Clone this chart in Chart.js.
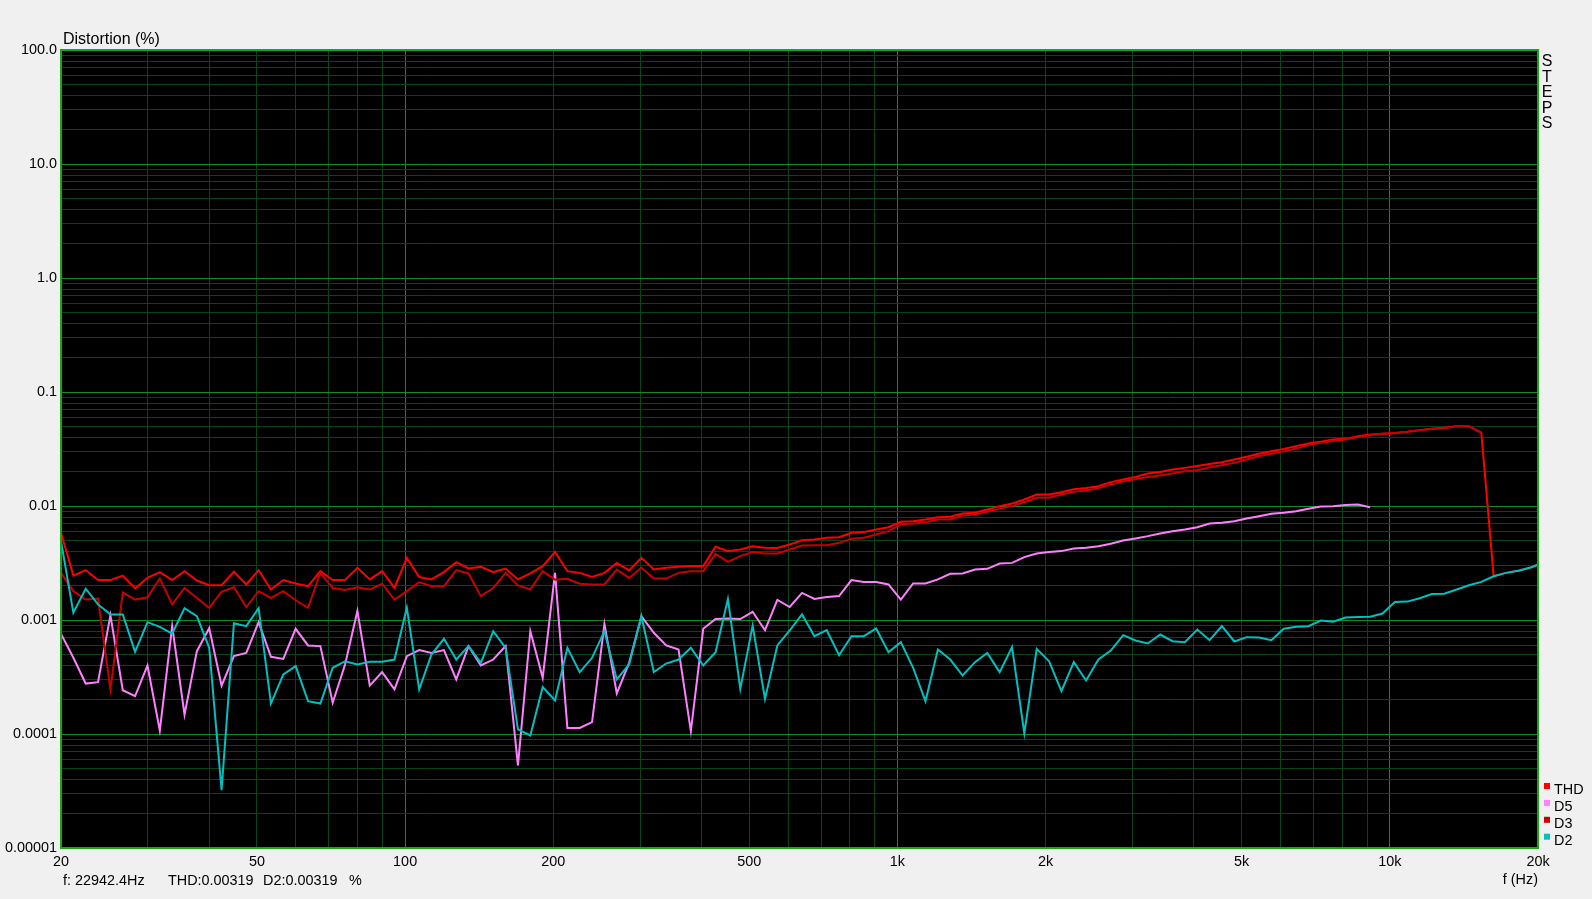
<!DOCTYPE html>
<html>
<head>
<meta charset="utf-8">
<title>Distortion</title>
<script src="https://cdn.jsdelivr.net/npm/chart.js@4.4.1/dist/chart.umd.min.js"></script>
<style>
  body { margin: 0; background: #f0f0f0; }
  #distChart { display: block; }
</style>
</head>
<body>
<canvas id="distChart" width="1592" height="899"></canvas>
<script>
// 1/12 octave frequency points (Hz)
var freqs = [
  20, 21.19, 22.45, 23.78, 25.2, 26.7, 28.28, 29.97, 31.75, 33.64, 35.64, 37.76,
  40, 42.38, 44.9, 47.57, 50.4, 53.39, 56.57, 59.93, 63.5, 67.27, 71.27, 75.51,
  80, 84.76, 89.8, 95.14, 100.8, 106.8, 113.1, 119.9, 127, 134.5, 142.5, 151,
  160, 169.5, 179.6, 190.3, 201.6, 213.6, 226.3, 239.7, 254, 269.1, 285.1, 302,
  320, 339, 359.2, 380.5, 403.2, 427.1, 452.5, 479.5, 508, 538.2, 570.2, 604.1,
  640, 678.1, 718.4, 761.1, 806.3, 854.3, 905.1, 958.9, 1016, 1076, 1140, 1208,
  1280, 1356, 1437, 1522, 1613, 1709, 1810, 1918, 2032, 2153, 2281, 2416,
  2560, 2712, 2874, 3044, 3225, 3417, 3620, 3836, 4064, 4305, 4561, 4833,
  5120, 5424, 5747, 6089, 6451, 6834, 7241, 7671, 8127, 8611, 9123, 9665,
  10240, 10849, 11494, 12177, 12902, 13669, 14482, 15343, 16255, 17222, 18246, 19331,
  20480
];

// distortion in %
var thd = [
  0.00582, 0.00245, 0.00274, 0.00224, 0.00224, 0.00245, 0.00189, 0.00234, 0.00263, 0.00224, 0.00268, 0.00222,
  0.00202, 0.00202, 0.00265, 0.00205, 0.00274, 0.00185, 0.00224, 0.00209, 0.00198, 0.00268, 0.00224, 0.00224,
  0.00287, 0.00227, 0.00268, 0.00191, 0.00351, 0.00238, 0.00227, 0.00263, 0.00322, 0.00283, 0.00293, 0.00263,
  0.00283, 0.00227, 0.00256, 0.00297, 0.00396, 0.00268, 0.00259, 0.00239, 0.00259, 0.00317, 0.00272, 0.00351,
  0.00277, 0.00287, 0.00293, 0.00297, 0.00297, 0.00439, 0.00402, 0.00415, 0.00444, 0.0043, 0.00428, 0.0046,
  0.00501, 0.00508, 0.00526, 0.00533, 0.00582, 0.0059, 0.00622, 0.00652, 0.00726, 0.00736, 0.00761, 0.00798,
  0.00804, 0.00859, 0.00871, 0.00932, 0.00997, 0.0105, 0.0114, 0.0126, 0.0126, 0.0132, 0.014, 0.0144,
  0.0149, 0.0162, 0.0171, 0.018, 0.0193, 0.0199, 0.0209, 0.0216, 0.0224, 0.0234, 0.0242, 0.0256,
  0.027, 0.0287, 0.0302, 0.0317, 0.0335, 0.0354, 0.0366, 0.0383, 0.0388, 0.041, 0.0424, 0.043,
  0.0436, 0.0448, 0.0463, 0.0476, 0.0485, 0.0501, 0.0501, 0.044, 0.00242, 0.00259, 0.0027, 0.00289,
  0.00318
];

var d5 = [
  0.000756, 0.000466, 0.000277, 0.000285, 0.0011, 0.000242, 0.000215, 0.000399, 0.000107, 0.000883, 0.000148, 0.000533,
  0.000848, 0.000266, 0.000482, 0.000515, 0.000957, 0.000475, 0.000456, 0.000837, 0.000598, 0.00059, 0.000188, 0.000407,
  0.0012, 0.000266, 0.000349, 0.000246, 0.000482, 0.000544, 0.000515, 0.000544, 0.000301, 0.00059, 0.000399, 0.00045,
  0.00059, 0.000053, 0.000798, 0.000311, 0.00259, 0.000113, 0.000113, 0.000127, 0.000926, 0.000227, 0.000421, 0.00108,
  0.000772, 0.000598, 0.000551, 0.000106, 0.000837, 0.00102, 0.00103, 0.00102, 0.00118, 0.000814, 0.0015, 0.0013,
  0.00173, 0.00153, 0.00159, 0.00162, 0.00224, 0.00215, 0.00215, 0.00205, 0.00151, 0.00209, 0.00209, 0.00227,
  0.00254, 0.00256, 0.00277, 0.00281, 0.00313, 0.00317, 0.00356, 0.00383, 0.00394, 0.00402, 0.00424, 0.0043,
  0.00444, 0.00466, 0.00498, 0.00519, 0.00544, 0.00574, 0.006, 0.00622, 0.00652, 0.00702, 0.00712, 0.00736,
  0.00777, 0.00814, 0.00854, 0.00871, 0.00901, 0.00944, 0.0099, 0.00997, 0.0102, 0.0103, 0.00977
];

var d3 = [
  0.00259, 0.00179, 0.00151, 0.00154, 0.000246, 0.00175, 0.00151, 0.00158, 0.00231, 0.00137, 0.00191, 0.00156,
  0.00128, 0.00177, 0.00194, 0.0013, 0.00179, 0.00156, 0.00179, 0.00149, 0.00128, 0.00259, 0.00191, 0.00183,
  0.00194, 0.00185, 0.00208, 0.00151, 0.00179, 0.00215, 0.00198, 0.00198, 0.00274, 0.00256, 0.00162, 0.00191,
  0.00259, 0.00201, 0.00185, 0.00268, 0.00226, 0.0023, 0.00208, 0.00205, 0.00205, 0.00277, 0.00234, 0.00287,
  0.00231, 0.00231, 0.00259, 0.00268, 0.00268, 0.0038, 0.00324, 0.00363, 0.00394, 0.00383, 0.00383, 0.00415,
  0.0045, 0.00453, 0.00453, 0.00475, 0.00515, 0.00526, 0.00562, 0.00602, 0.00688, 0.00702, 0.00721, 0.00761,
  0.00761, 0.00825, 0.00842, 0.00889, 0.00944, 0.00997, 0.0108, 0.0118, 0.0118, 0.0126, 0.0133, 0.0137,
  0.0144, 0.0154, 0.0165, 0.0172, 0.018, 0.0185, 0.0193, 0.0202, 0.0206, 0.0219, 0.0228, 0.0239,
  0.0256, 0.0274, 0.0287, 0.0302, 0.032, 0.0342, 0.0358, 0.0371, 0.0383, 0.0402, 0.0418, 0.043,
  0.0435, 0.0447, 0.0462, 0.0475, 0.0484, 0.05, 0.05, 0.044
];

var d2 = [
  0.00492, 0.00116, 0.00188, 0.00137, 0.00112, 0.00112, 0.000526, 0.000957, 0.000871, 0.000761, 0.00127, 0.00108,
  0.00057, 0.0000322, 0.000938, 0.000883, 0.00127, 0.000185, 0.000333, 0.000394, 0.000194, 0.000185, 0.000381, 0.000435,
  0.000407, 0.00043, 0.00043, 0.00045, 0.00128, 0.000246, 0.000498, 0.000684, 0.00045, 0.00059, 0.000421, 0.000798,
  0.00057, 0.00011, 0.000097, 0.000258, 0.000197, 0.00057, 0.000349, 0.000466, 0.000798, 0.000301, 0.000407, 0.00108,
  0.000349, 0.000415, 0.00045, 0.00057, 0.000399, 0.000522, 0.00153, 0.000249, 0.000895, 0.000203, 0.000598, 0.000809,
  0.00112, 0.000721, 0.000814, 0.000491, 0.000721, 0.000721, 0.000842, 0.000522, 0.000639, 0.000381, 0.000194, 0.000551,
  0.00045, 0.000326, 0.000427, 0.000515, 0.000349, 0.000578, 0.000101, 0.000559, 0.000435, 0.000238, 0.000427, 0.000295,
  0.00045, 0.00054, 0.000736, 0.000661, 0.000622, 0.000746, 0.000652, 0.000639, 0.000825, 0.000665, 0.000883, 0.000648,
  0.000707, 0.000703, 0.000665, 0.000837, 0.000871, 0.000883, 0.00099, 0.000964, 0.00105, 0.00106, 0.00107, 0.00114,
  0.00144, 0.00145, 0.00155, 0.00169, 0.0017, 0.00185, 0.00202, 0.00216, 0.00242, 0.00259, 0.0027, 0.00289,
  0.00318
];

// tick labels
var xTickValues = [20, 50, 100, 200, 500, 1000, 2000, 5000, 10000, 20000];
var xTickLabels = ['20', '50', '100', '200', '500', '1k', '2k', '5k', '10k', '20k'];
var yTickValues = [100, 10, 1, 0.1, 0.01, 0.001, 0.0001, 0.00001];
var yTickLabels = ['100.0', '10.0', '1.0', '0.1', '0.01', '0.001', '0.0001', '0.00001'];

var seriesNames = ['THD', 'D5', 'D3', 'D2'];
var seriesColors = ['#ff0000', '#ff80ff', '#c80000', '#00c0c0'];

var statusText = ['f: 22942.4Hz', 'THD:0.00319', 'D2:0.00319', '%'];

var minorGrid = '#06441a';
var majorGrid = '#138a22';
var frameGreen = '#14a814';
var fontFamily = "'Liberation Sans', Arial, sans-serif";
var labelFont = { family: fontFamily, size: 14.4 };

function toPoints(values) {
  return values.map(function (v, i) { return { x: freqs[i], y: v }; });
}

function labelFor(v, values, labels) {
  for (var i = 0; i < values.length; i++) {
    if (Math.abs(v / values[i] - 1) < 1e-6) return labels[i];
  }
  return '';
}

function isDecade(v) {
  var l = Math.log10(v);
  return Math.abs(l - Math.round(l)) < 1e-6;
}

// keep only 1..9 x 10^n grid lines (drop the 1.5 steps)
function keepWhole(scale) {
  scale.ticks = scale.ticks.filter(function (t) {
    var m = t.value / Math.pow(10, Math.floor(Math.log10(t.value) + 1e-9));
    return Math.abs(m - Math.round(m)) < 1e-6;
  });
}

var seriesData = [thd, d5, d3, d2];
var datasets = seriesData.map(function (vals, i) {
  return {
    label: seriesNames[i],
    data: toPoints(vals),
    borderColor: seriesColors[i],
    backgroundColor: seriesColors[i],
    borderWidth: 2,
    pointRadius: 0,
    tension: 0,
    fill: false,
    order: seriesData.length - i
  };
});

var panelPlugin = {
  id: 'panel',
  beforeDraw: function (chart) {
    var c = chart.ctx, a = chart.chartArea;
    c.save();
    c.fillStyle = '#f0f0f0';
    c.fillRect(0, 0, chart.width, chart.height);
    c.fillStyle = '#000000';
    c.fillRect(a.left, a.top, a.right - a.left, a.bottom - a.top);
    c.restore();
  },
  afterDraw: function (chart) {
    var c = chart.ctx, a = chart.chartArea;
    c.save();
    c.strokeStyle = frameGreen;
    c.lineWidth = 2;
    c.strokeRect(a.left, a.top, a.right - a.left, a.bottom - a.top);

    c.fillStyle = '#000000';
    c.textBaseline = 'alphabetic';
    c.textAlign = 'left';
    c.font = '16px ' + fontFamily;
    c.fillText('Distortion (%)', a.left + 2, a.top - 6);

    // status line
    c.font = '14.4px ' + fontFamily;
    var sx = [a.left + 2, a.left + 107, a.left + 202, a.left + 288];
    for (var i = 0; i < statusText.length; i++) {
      c.fillText(statusText[i], sx[i], 885);
    }
    c.textAlign = 'right';
    c.fillText('f (Hz)', a.right, 884);

    // vertical STEPS
    c.textAlign = 'center';
    c.font = '16px ' + fontFamily;
    var word = 'STEPS';
    for (var j = 0; j < word.length; j++) {
      c.fillText(word[j], a.right + 9, a.top + 16 + j * 15.6);
    }

    // legend
    c.font = '14.4px ' + fontFamily;
    c.textAlign = 'left';
    for (var k = 0; k < seriesNames.length; k++) {
      var by = 794 + k * 16.9;
      c.fillStyle = seriesColors[k];
      c.fillRect(a.right + 6, by - 11, 6, 6);
      c.fillStyle = '#000000';
      c.fillText(seriesNames[k], a.right + 16, by);
    }
    c.restore();
  }
};

var ctxD = document.getElementById('distChart').getContext('2d');
var distChart = new Chart(ctxD, {
  type: 'line',
  data: { datasets: datasets },
  options: {
    responsive: false,
    animation: false,
    devicePixelRatio: 1,
    layout: { padding: { left: 0, top: 50, right: 54, bottom: 0 } },
    plugins: {
      legend: { display: false },
      tooltip: { enabled: false },
      title: { display: false }
    },
    scales: {
      x: {
        type: 'logarithmic',
        min: 20,
        max: 20000,
        afterBuildTicks: keepWhole,
        afterFit: function (s) { s.height = 51; },
        border: { display: false },
        grid: {
          drawTicks: false,
          lineWidth: 1,
          color: function (c) { return isDecade(c.tick.value) ? majorGrid : minorGrid; }
        },
        ticks: {
          autoSkip: false,
          maxRotation: 0,
          padding: 5,
          color: '#000000',
          font: labelFont,
          callback: function (v) { return labelFor(v, xTickValues, xTickLabels); }
        }
      },
      y: {
        type: 'logarithmic',
        min: 0.00001,
        max: 100,
        afterBuildTicks: keepWhole,
        afterFit: function (s) { s.width = 61; },
        border: { display: false },
        grid: {
          drawTicks: false,
          lineWidth: 1,
          color: function (c) { return isDecade(c.tick.value) ? majorGrid : minorGrid; }
        },
        ticks: {
          autoSkip: false,
          padding: 4,
          color: '#000000',
          font: labelFont,
          callback: function (v) { return labelFor(v, yTickValues, yTickLabels); }
        }
      }
    }
  },
  plugins: [panelPlugin]
});
</script>
</body>
</html>
